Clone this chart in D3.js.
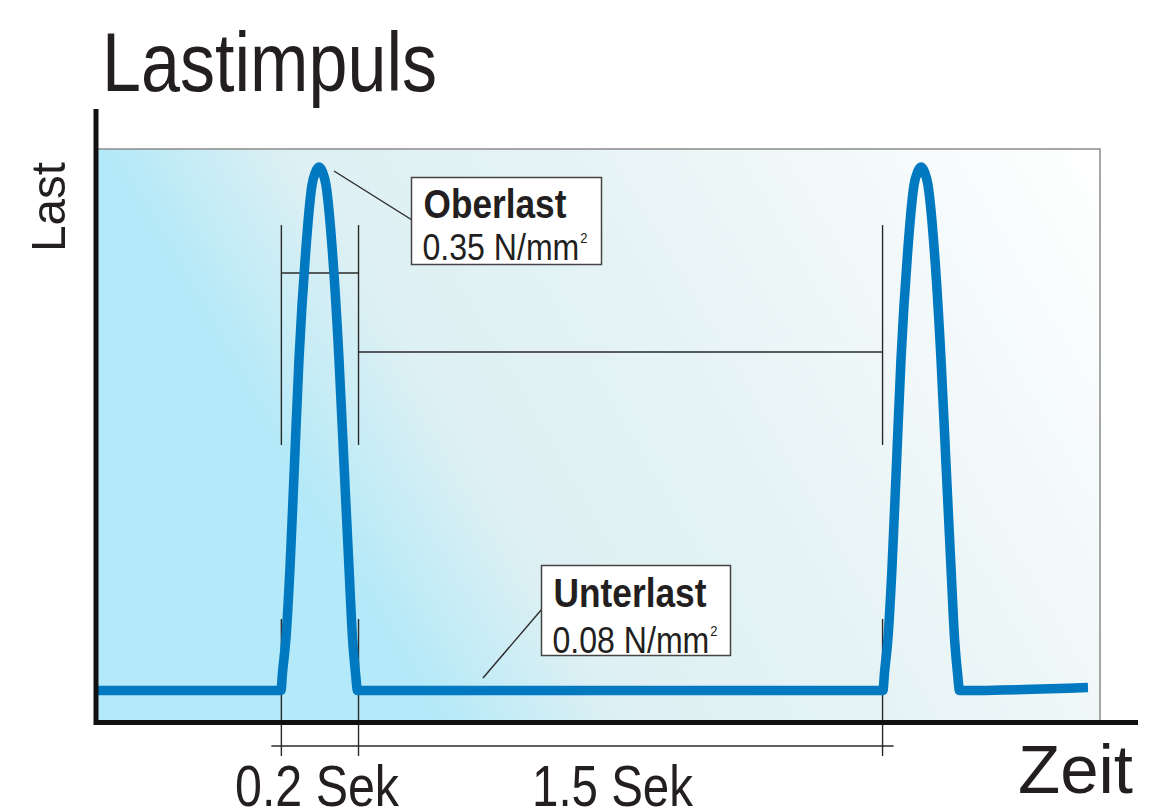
<!DOCTYPE html>
<html>
<head>
<meta charset="utf-8">
<script src="https://cdn.jsdelivr.net/npm/d3@7"></script>
<style>
  html, body { margin: 0; padding: 0; background: #fff; }
  svg { display: block; }
  text { font-family: "Liberation Sans", Arial, sans-serif; fill: #231f20; }
</style>
</head>
<body>
<div id="chart"></div>
<script>
// Zeit in willkuerlichen Einheiten (Diagramm ist nicht massstabsgetreu), Last in N/mm2
const zeit = [0, 18.26, 18.41, 18.76, 19.16, 19.61, 20.06, 20.71, 21.36, 21.71, 22.06, 22.41, 22.75, 23.41, 24.05, 24.55, 25.05, 25.40, 25.70, 25.90,
  78.34, 78.49, 78.84, 79.24, 79.69, 80.14, 80.79, 81.44, 81.79, 82.14, 82.49, 82.83, 83.49, 84.13, 84.63, 85.13, 85.48, 85.78, 85.98, 98.8];
const last = [0.08, 0.08, 0.089, 0.1071, 0.1432, 0.1969, 0.251, 0.3052, 0.3408, 0.3474, 0.35, 0.3474, 0.3408, 0.3052, 0.251, 0.1969, 0.1432, 0.1071, 0.089, 0.08,
  0.08, 0.089, 0.1071, 0.1432, 0.1969, 0.251, 0.3052, 0.3408, 0.3474, 0.35, 0.3474, 0.3408, 0.3052, 0.251, 0.1969, 0.1432, 0.1071, 0.089, 0.08, 0.0815];

const oberlast = 0.35, unterlast = 0.08;
const markZeit = [18.3, 26.0, 78.3];     // Bemassungslinien
const dauerLabels = ["0.2 Sek", "1.5 Sek"];

const W = 1173, H = 809;
const svg = d3.select("#chart").append("svg").attr("width", W).attr("height", H);

const x = d3.scaleLinear().domain([0, 100]).range([98, 1100]);
const y = d3.scaleLinear().domain([0.0658, 0.3593]).range([718, 149]);

// gradient background
const defs = svg.append("defs");
const grad = defs.append("linearGradient")
  .attr("id", "bg")
  .attr("gradientUnits", "userSpaceOnUse")
  .attr("x1", 98).attr("y1", 718)
  .attr("x2", 1095).attr("y2", 138);
[[0, "#b3e9f8"], [0.25, "#b3e9f8"], [0.39, "#ddf0f3"], [0.6, "#e6f3f5"], [1, "#ffffff"]]
  .forEach(s => grad.append("stop").attr("offset", s[0]).attr("stop-color", s[1]));

svg.append("rect")
  .attr("x", x(0)).attr("y", y.range()[1])
  .attr("width", x(100) - x(0)).attr("height", 722 - y.range()[1])
  .attr("fill", "url(#bg)");

// gray frame top + right
svg.append("path")
  .attr("d", `M${x(0)},${y.range()[1]} H${x(100)} V722`)
  .attr("fill", "none").attr("stroke", "#8a8a8a").attr("stroke-width", 1.5);

// dimension lines
const dim = svg.append("g").attr("stroke", "#2a2a2a").attr("stroke-width", 1.4).attr("fill", "none");
markZeit.forEach(t => {
  dim.append("line").attr("x1", x(t)).attr("x2", x(t)).attr("y1", 225).attr("y2", 445);
  dim.append("line").attr("x1", x(t)).attr("x2", x(t)).attr("y1", 619).attr("y2", 756);
});
dim.append("line").attr("x1", x(markZeit[0])).attr("x2", x(markZeit[1])).attr("y1", 273).attr("y2", 273);
dim.append("line").attr("x1", x(markZeit[1])).attr("x2", x(markZeit[2])).attr("y1", 352).attr("y2", 352);
dim.append("line").attr("x1", x(markZeit[0]) - 10).attr("x2", x(markZeit[2]) + 11).attr("y1", 746).attr("y2", 746);

// load curve
const pts = zeit.map((t, i) => [t, last[i]]);
svg.append("path")
  .datum(pts)
  .attr("d", d3.line().x(d => x(d[0])).y(d => y(d[1])).curve(d3.curveMonotoneX))
  .attr("fill", "none")
  .attr("stroke", "#0079c1")
  .attr("stroke-width", 9.5)
  .attr("stroke-linejoin", "round");

// axes
svg.append("line").attr("x1", 96).attr("x2", 96).attr("y1", 109).attr("y2", 725)
  .attr("stroke", "#111").attr("stroke-width", 5);
svg.append("line").attr("x1", 94).attr("x2", 1138).attr("y1", 722.5).attr("y2", 722.5)
  .attr("stroke", "#111").attr("stroke-width", 5);

// squeeze a text horizontally to a given width (condensed look)
function fitText(px, py, width, size, bold) {
  const g = svg.append("g");
  const t = g.append("text").attr("x", 0).attr("y", 0).attr("font-size", size)
    .attr("font-weight", bold ? "bold" : null);
  return {g, t, done() {
    const w = t.node().getBBox().width;
    g.attr("transform", `translate(${px},${py}) scale(${width / w},1)`);
  }};
}

// callouts
function callout(bx, by, bw, bh, lx1, ly1, lx2, ly2, title, val, tb, vb, tl, vl) {
  svg.append("line").attr("x1", lx1).attr("y1", ly1).attr("x2", lx2).attr("y2", ly2)
    .attr("stroke", "#2a2a2a").attr("stroke-width", 1.4);
  svg.append("rect").attr("x", bx).attr("y", by).attr("width", bw).attr("height", bh)
    .attr("fill", "#fff").attr("stroke", "#444").attr("stroke-width", 1.5);
  const a = fitText(bx + 12, tb, tl, 40, true);
  a.t.text(title); a.done();
  const b = fitText(bx + 11, vb, vl, 37, false);
  b.t.append("tspan").text(val + " N/mm");
  b.t.append("tspan").attr("dx", 1).attr("dy", -17).attr("font-size", 15).text("2");
  b.done();
}
callout(411.5, 177.5, 190, 87, 334, 171, 412, 220, "Oberlast", oberlast.toFixed(2), 218, 260, 143, 165);
callout(541.5, 565.5, 189, 90, 483, 678, 542, 609, "Unterlast", unterlast.toFixed(2), 607, 653, 153, 165);

// texts
svg.append("text").attr("x", 102).attr("y", 91).attr("font-size", 84)
  .attr("textLength", 335).attr("lengthAdjust", "spacingAndGlyphs").text("Lastimpuls");
svg.append("text").attr("transform", "translate(65,252) rotate(-90)").attr("font-size", 49)
  .attr("textLength", 90).attr("lengthAdjust", "spacingAndGlyphs").text("Last");
svg.append("text").attr("x", 1018).attr("y", 793).attr("font-size", 69)
  .attr("textLength", 115).attr("lengthAdjust", "spacingAndGlyphs").text("Zeit");
svg.append("text").attr("x", 235).attr("y", 806).attr("font-size", 58)
  .attr("textLength", 164).attr("lengthAdjust", "spacingAndGlyphs").text(dauerLabels[0]);
svg.append("text").attr("x", 532).attr("y", 806).attr("font-size", 58)
  .attr("textLength", 161).attr("lengthAdjust", "spacingAndGlyphs").text(dauerLabels[1]);
</script>
</body>
</html>
